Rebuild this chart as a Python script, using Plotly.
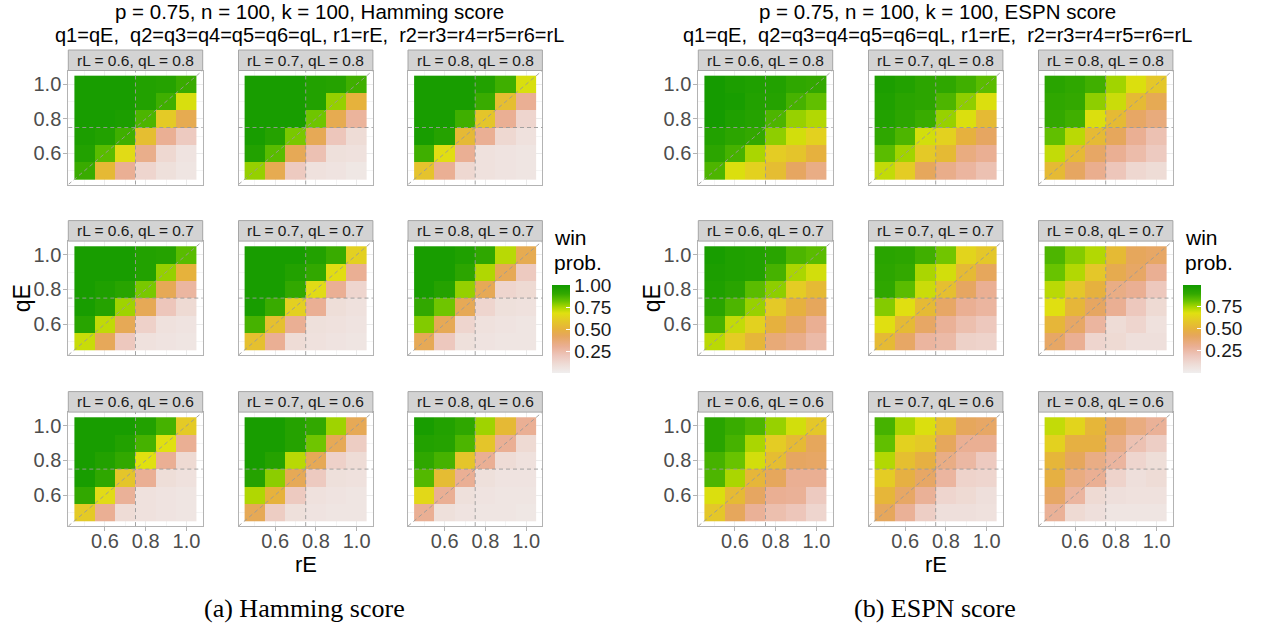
import plotly.graph_objects as go

# ---------------- data ----------------
RE_VALUES = [0.5, 0.6, 0.7, 0.8, 0.9, 1.0]          # x categories (columns)
QE_VALUES_TOP_DOWN = [1.0, 0.9, 0.8, 0.7, 0.6, 0.5]  # y categories (rows, top to bottom)
RL_VALUES = [0.6, 0.7, 0.8]                          # facet columns
QL_VALUES = [0.8, 0.7, 0.6]                          # facet rows (top to bottom)
P_VALUE = 0.75
X_TICKS = [0.6, 0.8, 1.0]
Y_TICKS = [0.6, 0.8, 1.0]
LEFT_LEGEND_TICKS = [0.25, 0.5, 0.75, 1.0]
RIGHT_LEGEND_TICKS = [0.25, 0.5, 0.75]

# Hamming score: rows listed top (qE=1.0) to bottom (qE=0.5)
ham_r06_q08 = [[0.98, 0.98, 0.98, 0.95, 0.94, 0.89],
               [0.98, 0.98, 0.98, 0.95, 0.88, 0.69],
               [0.98, 0.98, 0.97, 0.86, 0.60, 0.45],
               [0.97, 0.95, 0.88, 0.55, 0.30, 0.18],
               [0.95, 0.84, 0.66, 0.32, 0.12, 0.06],
               [0.89, 0.53, 0.30, 0.13, 0.08, 0.05]]
ham_r07_q08 = [[0.98, 0.98, 0.98, 0.95, 0.94, 0.88],
               [0.98, 0.98, 0.98, 0.95, 0.77, 0.50],
               [0.98, 0.98, 0.98, 0.81, 0.45, 0.28],
               [0.98, 0.94, 0.80, 0.44, 0.20, 0.10],
               [0.95, 0.84, 0.44, 0.22, 0.08, 0.07],
               [0.77, 0.45, 0.18, 0.07, 0.06, 0.04]]
ham_r08_q08 = [[0.98, 0.98, 0.98, 0.95, 0.88, 0.69],
               [0.98, 0.98, 0.98, 0.89, 0.55, 0.30],
               [0.98, 0.98, 0.88, 0.58, 0.30, 0.13],
               [0.98, 0.94, 0.53, 0.30, 0.12, 0.07],
               [0.88, 0.67, 0.30, 0.07, 0.06, 0.05],
               [0.57, 0.30, 0.12, 0.07, 0.06, 0.05]]
ham_r06_q07 = [[0.98, 0.98, 0.98, 0.95, 0.94, 0.84],
               [0.98, 0.98, 0.98, 0.95, 0.77, 0.50],
               [0.98, 0.96, 0.93, 0.80, 0.44, 0.27],
               [0.98, 0.94, 0.76, 0.44, 0.20, 0.11],
               [0.93, 0.72, 0.44, 0.15, 0.07, 0.06],
               [0.71, 0.43, 0.19, 0.07, 0.06, 0.05]]
ham_r07_q07 = [[0.98, 0.98, 0.98, 0.95, 0.89, 0.62],
               [0.98, 0.98, 0.95, 0.90, 0.67, 0.30],
               [0.98, 0.98, 0.90, 0.66, 0.30, 0.13],
               [0.98, 0.89, 0.62, 0.30, 0.09, 0.07],
               [0.87, 0.56, 0.30, 0.08, 0.07, 0.06],
               [0.56, 0.30, 0.10, 0.07, 0.06, 0.05]]
ham_r08_q07 = [[0.98, 0.98, 0.96, 0.91, 0.73, 0.45],
               [0.98, 0.98, 0.92, 0.74, 0.44, 0.18],
               [0.98, 0.94, 0.77, 0.44, 0.13, 0.11],
               [0.90, 0.81, 0.44, 0.13, 0.08, 0.07],
               [0.79, 0.44, 0.13, 0.07, 0.06, 0.05],
               [0.44, 0.19, 0.08, 0.06, 0.05, 0.05]]
ham_r06_q06 = [[0.98, 0.98, 0.98, 0.95, 0.87, 0.60],
               [0.98, 0.98, 0.95, 0.87, 0.68, 0.30],
               [0.98, 0.95, 0.90, 0.68, 0.30, 0.11],
               [0.98, 0.91, 0.58, 0.30, 0.09, 0.07],
               [0.90, 0.66, 0.29, 0.07, 0.06, 0.05],
               [0.60, 0.30, 0.10, 0.07, 0.06, 0.05]]
ham_r07_q06 = [[0.98, 0.98, 0.94, 0.90, 0.76, 0.44],
               [0.98, 0.98, 0.94, 0.81, 0.44, 0.17],
               [0.98, 0.94, 0.73, 0.44, 0.15, 0.10],
               [0.94, 0.78, 0.44, 0.18, 0.08, 0.07],
               [0.74, 0.50, 0.18, 0.07, 0.06, 0.05],
               [0.44, 0.17, 0.08, 0.06, 0.05, 0.05]]
ham_r08_q06 = [[0.98, 0.95, 0.91, 0.76, 0.53, 0.30],
               [0.95, 0.94, 0.86, 0.58, 0.30, 0.11],
               [0.91, 0.87, 0.58, 0.30, 0.10, 0.07],
               [0.85, 0.54, 0.30, 0.08, 0.06, 0.06],
               [0.65, 0.30, 0.08, 0.06, 0.05, 0.05],
               [0.30, 0.08, 0.06, 0.05, 0.05, 0.04]]

# ESPN score
espn_r06_q08 = [[0.98, 0.96, 0.95, 0.94, 0.90, 0.89],
                [0.98, 0.97, 0.94, 0.93, 0.86, 0.82],
                [0.98, 0.95, 0.93, 0.85, 0.76, 0.73],
                [0.94, 0.91, 0.89, 0.77, 0.69, 0.62],
                [0.91, 0.86, 0.74, 0.60, 0.57, 0.49],
                [0.85, 0.68, 0.62, 0.54, 0.41, 0.33]]
espn_r07_q08 = [[0.96, 0.94, 0.91, 0.90, 0.87, 0.83],
                [0.95, 0.92, 0.91, 0.85, 0.77, 0.68],
                [0.94, 0.91, 0.88, 0.76, 0.68, 0.53],
                [0.90, 0.85, 0.69, 0.62, 0.49, 0.41],
                [0.83, 0.75, 0.59, 0.53, 0.34, 0.30],
                [0.71, 0.60, 0.42, 0.32, 0.27, 0.22]]
espn_r08_q08 = [[0.92, 0.90, 0.87, 0.75, 0.68, 0.58],
                [0.90, 0.89, 0.77, 0.70, 0.53, 0.44],
                [0.89, 0.87, 0.68, 0.53, 0.40, 0.35],
                [0.82, 0.72, 0.53, 0.42, 0.30, 0.22],
                [0.71, 0.53, 0.40, 0.30, 0.24, 0.18],
                [0.53, 0.41, 0.31, 0.20, 0.12, 0.10]]
espn_r06_q07 = [[0.97, 0.95, 0.94, 0.92, 0.85, 0.83],
                [0.96, 0.95, 0.94, 0.86, 0.74, 0.69],
                [0.95, 0.92, 0.83, 0.77, 0.60, 0.53],
                [0.92, 0.85, 0.76, 0.59, 0.49, 0.42],
                [0.86, 0.71, 0.62, 0.49, 0.40, 0.30],
                [0.72, 0.60, 0.51, 0.36, 0.32, 0.25]]
espn_r07_q07 = [[0.92, 0.91, 0.87, 0.80, 0.63, 0.58],
                [0.91, 0.89, 0.74, 0.69, 0.53, 0.42],
                [0.90, 0.83, 0.70, 0.55, 0.41, 0.30],
                [0.78, 0.67, 0.53, 0.40, 0.30, 0.27],
                [0.67, 0.53, 0.40, 0.29, 0.23, 0.19],
                [0.53, 0.40, 0.27, 0.25, 0.15, 0.14]]
espn_r08_q07 = [[0.85, 0.78, 0.73, 0.53, 0.42, 0.40],
                [0.81, 0.73, 0.58, 0.45, 0.40, 0.30],
                [0.72, 0.58, 0.49, 0.33, 0.30, 0.19],
                [0.67, 0.51, 0.41, 0.30, 0.19, 0.11],
                [0.51, 0.40, 0.27, 0.10, 0.13, 0.07],
                [0.40, 0.30, 0.13, 0.11, 0.08, 0.08]]
espn_r06_q06 = [[0.92, 0.88, 0.85, 0.76, 0.69, 0.58],
                [0.92, 0.86, 0.74, 0.60, 0.53, 0.42],
                [0.86, 0.81, 0.69, 0.54, 0.41, 0.40],
                [0.85, 0.74, 0.51, 0.42, 0.30, 0.30],
                [0.68, 0.53, 0.41, 0.30, 0.29, 0.18],
                [0.58, 0.42, 0.29, 0.23, 0.20, 0.13]]
espn_r07_q06 = [[0.86, 0.74, 0.68, 0.55, 0.42, 0.40],
                [0.82, 0.62, 0.59, 0.42, 0.30, 0.30],
                [0.73, 0.55, 0.48, 0.33, 0.26, 0.18],
                [0.60, 0.48, 0.40, 0.27, 0.14, 0.13],
                [0.51, 0.40, 0.29, 0.13, 0.11, 0.08],
                [0.42, 0.29, 0.16, 0.08, 0.08, 0.07]]
espn_r08_q06 = [[0.71, 0.63, 0.51, 0.41, 0.34, 0.29],
                [0.62, 0.48, 0.48, 0.33, 0.22, 0.16],
                [0.51, 0.42, 0.33, 0.27, 0.13, 0.09],
                [0.48, 0.34, 0.30, 0.14, 0.08, 0.10],
                [0.40, 0.27, 0.11, 0.08, 0.07, 0.07],
                [0.29, 0.11, 0.08, 0.05, 0.05, 0.05]]

HAM_FACETS = [[ham_r06_q08, ham_r07_q08, ham_r08_q08],
              [ham_r06_q07, ham_r07_q07, ham_r08_q07],
              [ham_r06_q06, ham_r07_q06, ham_r08_q06]]
ESPN_FACETS = [[espn_r06_q08, espn_r07_q08, espn_r08_q08],
               [espn_r06_q07, espn_r07_q07, espn_r08_q07],
               [espn_r06_q06, espn_r07_q06, espn_r08_q06]]

# ---------------- styling / layout ----------------
W, H = 1271, 632
AX_RANGE = [0.42, 1.08]
FONT = "Liberation Sans, Arial, sans-serif"
SERIF = "Liberation Serif, Times New Roman, serif"

COLORSCALE = [
    [0.00, "#F0EEEE"], [0.10, "#EEDCD6"], [0.20, "#EDC6BB"], [0.30, "#EAAF94"],
    [0.42, "#E6A65E"], [0.50, "#E6B23C"], [0.60, "#E4CA26"], [0.68, "#E0E010"],
    [0.75, "#A8D600"], [0.82, "#66C200"], [0.90, "#32A800"], [1.00, "#129A00"],
]

PANEL_W, PANEL_H = 134.4, 114.0
STRIP_H = 20.5
ROW_TOPS = [70.5, 241.1, 412.1]
FIGS = [
    dict(facets=HAM_FACETS, cols=[68.3, 238.5, 408.0], caxis="coloraxis",
         title="p = 0.75, n = 100, k = 100, Hamming score", center=309,
         caption="(a) Hamming score", cap_center=304, legend_x=551.7),
    dict(facets=ESPN_FACETS, cols=[698.3, 868.5, 1038.5], caxis="coloraxis2",
         title="p = 0.75, n = 100, k = 100, ESPN score", center=937,
         caption="(b) ESPN score", cap_center=935, legend_x=1182.7),
]
SUBTITLE = "q1=qE,  q2=q3=q4=q5=q6=qL, r1=rE,  r2=r3=r4=r5=r6=rL"


def fx(p):
    return p / W


def fy(p):
    return 1 - p / H


fig = go.Figure()
layout = dict(width=W, height=H, margin=dict(l=0, r=0, t=0, b=0),
              paper_bgcolor="white", plot_bgcolor="white",
              font=dict(family=FONT, color="black"), showlegend=False)
shapes, annotations = [], []

k = 0
for f in FIGS:
    for ri, ql in enumerate(QL_VALUES):
        for ci, rl in enumerate(RL_VALUES):
            k += 1
            sfx = "" if k == 1 else str(k)
            z_top_down = f["facets"][ri][ci]
            fig.add_trace(go.Heatmap(
                x=RE_VALUES, y=QE_VALUES_TOP_DOWN[::-1], z=z_top_down[::-1],
                coloraxis=f["caxis"], xaxis="x" + sfx, yaxis="y" + sfx,
                hovertemplate="rE=%{x}<br>qE=%{y}<br>win prob.=%{z}<extra></extra>"))
            left = f["cols"][ci]
            top = ROW_TOPS[ri]
            bottom_row = ri == len(QL_VALUES) - 1
            first_col = ci == 0
            common = dict(range=AX_RANGE, showgrid=True, gridcolor="#EBEBEB", gridwidth=1,
                          zeroline=False, showline=True, mirror=True, linecolor="#B3B3B3",
                          linewidth=1, tickfont=dict(size=20, color="#4D4D4D", family=FONT),
                          minor=dict(showgrid=True, gridcolor="#F4F4F4", gridwidth=0.6,
                                     tickvals=[0.5, 0.7, 0.9]))
            layout["xaxis" + sfx] = dict(
                common, domain=[fx(left), fx(left + PANEL_W)], anchor="y" + sfx,
                tickvals=X_TICKS, ticktext=[f"{v:.1f}" for v in X_TICKS],
                showticklabels=bottom_row, ticks="outside" if bottom_row else "",
                ticklen=4, tickcolor="#B3B3B3", ticklabelstandoff=-7)
            layout["yaxis" + sfx] = dict(
                common, domain=[fy(top + PANEL_H), fy(top)], anchor="x" + sfx,
                tickvals=Y_TICKS, ticktext=[f"{v:.1f}" for v in Y_TICKS],
                showticklabels=first_col, ticks="outside" if first_col else "",
                ticklen=4, tickcolor="#B3B3B3", ticklabelstandoff=-2)
            # reference lines at p and the diagonal
            line = dict(color="#9A9A9A", width=0.9, dash="4px,3px")
            shapes.append(dict(type="line", xref="x" + sfx, yref="y" + sfx + " domain",
                               x0=P_VALUE, x1=P_VALUE, y0=0, y1=1, line=line, layer="above"))
            shapes.append(dict(type="line", xref="x" + sfx + " domain", yref="y" + sfx,
                               x0=0, x1=1, y0=P_VALUE, y1=P_VALUE, line=line, layer="above"))
            shapes.append(dict(type="line", xref="x" + sfx, yref="y" + sfx,
                               x0=AX_RANGE[0], y0=AX_RANGE[0], x1=AX_RANGE[1], y1=AX_RANGE[1],
                               line=line, layer="above"))
            # strip
            shapes.append(dict(type="rect", xref="paper", yref="paper",
                               x0=fx(left), x1=fx(left + PANEL_W),
                               y0=fy(top), y1=fy(top - STRIP_H),
                               fillcolor="#D3D3D3", line=dict(color="#A6A6A6", width=1)))
            annotations.append(dict(xref="paper", yref="paper",
                                    x=fx(left + PANEL_W / 2), y=fy(top - STRIP_H / 2),
                                    text=f"rL = {rl}, qL = {ql}", showarrow=False,
                                    font=dict(size=15.5, color="#1A1A1A"),
                                    xanchor="center", yanchor="middle"))
    # titles
    annotations.append(dict(xref="paper", yref="paper", x=fx(f["center"]), y=fy(12),
                            text=f["title"], showarrow=False, font=dict(size=20.5),
                            xanchor="center", yanchor="middle"))
    annotations.append(dict(xref="paper", yref="paper", x=fx(f["center"]), y=fy(35),
                            text=SUBTITLE, showarrow=False, font=dict(size=20),
                            xanchor="center", yanchor="middle"))
    # axis titles
    annotations.append(dict(xref="paper", yref="paper", x=fx(f["cols"][0] - 46), y=fy(298),
                            text="qE", showarrow=False, textangle=-90, font=dict(size=23),
                            xanchor="center", yanchor="middle"))
    annotations.append(dict(xref="paper", yref="paper",
                            x=fx(f["cols"][1] + PANEL_W / 2), y=fy(564),
                            text="rE", showarrow=False, font=dict(size=22),
                            xanchor="center", yanchor="middle"))
    annotations.append(dict(xref="paper", yref="paper", x=fx(f["cap_center"]), y=fy(608),
                            text=f["caption"], showarrow=False,
                            font=dict(size=26, family=SERIF),
                            xanchor="center", yanchor="middle"))
    # legend title
    annotations.append(dict(xref="paper", yref="paper", x=fx(f["legend_x"]), y=fy(237),
                            text="win", showarrow=False, font=dict(size=21),
                            xanchor="left", yanchor="middle"))
    annotations.append(dict(xref="paper", yref="paper", x=fx(f["legend_x"]), y=fy(262),
                            text="prob.", showarrow=False, font=dict(size=21),
                            xanchor="left", yanchor="middle"))


def cbar(xpx, ticks):
    return dict(x=fx(xpx), xanchor="left", xpad=0, ypad=0,
                y=fy(329), yanchor="middle", len=88, lenmode="pixels",
                thickness=18, thicknessmode="pixels", outlinewidth=0,
                tickvals=ticks, ticktext=[f"{t:.2f}" for t in ticks],
                ticks="inside", ticklen=4, tickcolor="white", tickwidth=1,
                tickfont=dict(size=19, color="#1A1A1A"))


layout["coloraxis"] = dict(colorscale=COLORSCALE, cmin=0, cmax=1,
                           colorbar=cbar(FIGS[0]["legend_x"], LEFT_LEGEND_TICKS))
layout["coloraxis2"] = dict(colorscale=COLORSCALE, cmin=0, cmax=0.99,
                            colorbar=cbar(FIGS[1]["legend_x"], RIGHT_LEGEND_TICKS))
layout["shapes"] = shapes
layout["annotations"] = annotations
fig.update_layout(**layout)
fig.write_html("out.html", config={"displayModeBar": False},
               post_script="document.body.style.margin='0';document.body.style.overflow='hidden';")
